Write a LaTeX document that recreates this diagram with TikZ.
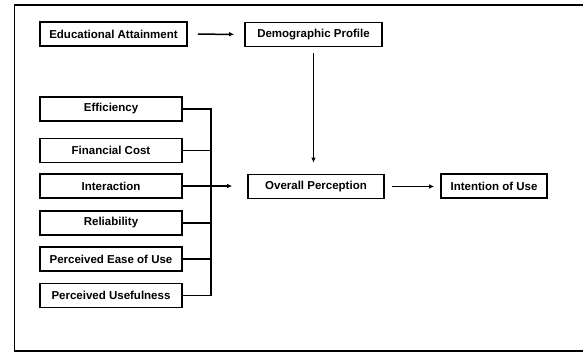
\documentclass[tikz,border=0pt]{standalone}
\usepackage{fontspec}
\setmainfont{Liberation Sans}
\usetikzlibrary{positioning,arrows.meta}

\tikzset{
    factor/.style={draw, line width=1.6pt, minimum height=24pt, inner sep=2pt,
        align=center, font=\bfseries\fontsize{11.5}{13}\selectfont},
    link/.style={line width=1.5pt},
    frame/.style={line width=1.5pt},
}

\begin{document}
\begin{tikzpicture}[x=1pt, y=-1pt, >={Latex[length=5pt,width=4.5pt]}]
    \useasboundingbox (0,0) rectangle (583,352);
    \draw[frame] (583,5) -- (14.5,5) -- (14.5,351) -- (583,351);
    \node[factor, minimum width=147pt] (edu) at (113.5,34) {Educational Attainment};
    \node[factor, minimum width=137pt] (demo) at (313.5,34.5) {Demographic Profile};
    \node[factor, minimum width=136pt] (overall) at (316,186.5) {Overall Perception};
    \node[factor, minimum width=106pt] (intent) at (494,186) {Intention of Use};
    \foreach \y/\t/\n in {109/Efficiency/eff, 150.5/Financial Cost/cost, 186/Interaction/inter,
        223/Reliability/rel, 259/Perceived Ease of Use/ease, 295.5/Perceived Usefulness/useful}
        \node[factor, minimum width=142pt] (\n) at (111,\y) {\t};
    \coordinate (bus) at (211,186);
    % factors join the bus
    \draw[link] (eff.east) -| (useful.east -| bus) -- (useful.east);
    \foreach \n in {cost, rel, ease}
        \draw[link] (\n.east) -- (\n.east -| bus);
    \draw[link, ->, shorten >=15pt] (inter.east) -- (inter.east -| overall.west);
    % main path
    \draw[link, ->, shorten <=10pt, shorten >=10pt] (edu) -- (demo);
    \draw[link, ->, shorten <=6pt, shorten >=11pt] (demo) -- (demo |- overall.north);
    \draw[link, ->, shorten <=7pt, shorten >=6pt] (overall.east) -- (overall.east -| intent.west);
\end{tikzpicture}
\end{document}
